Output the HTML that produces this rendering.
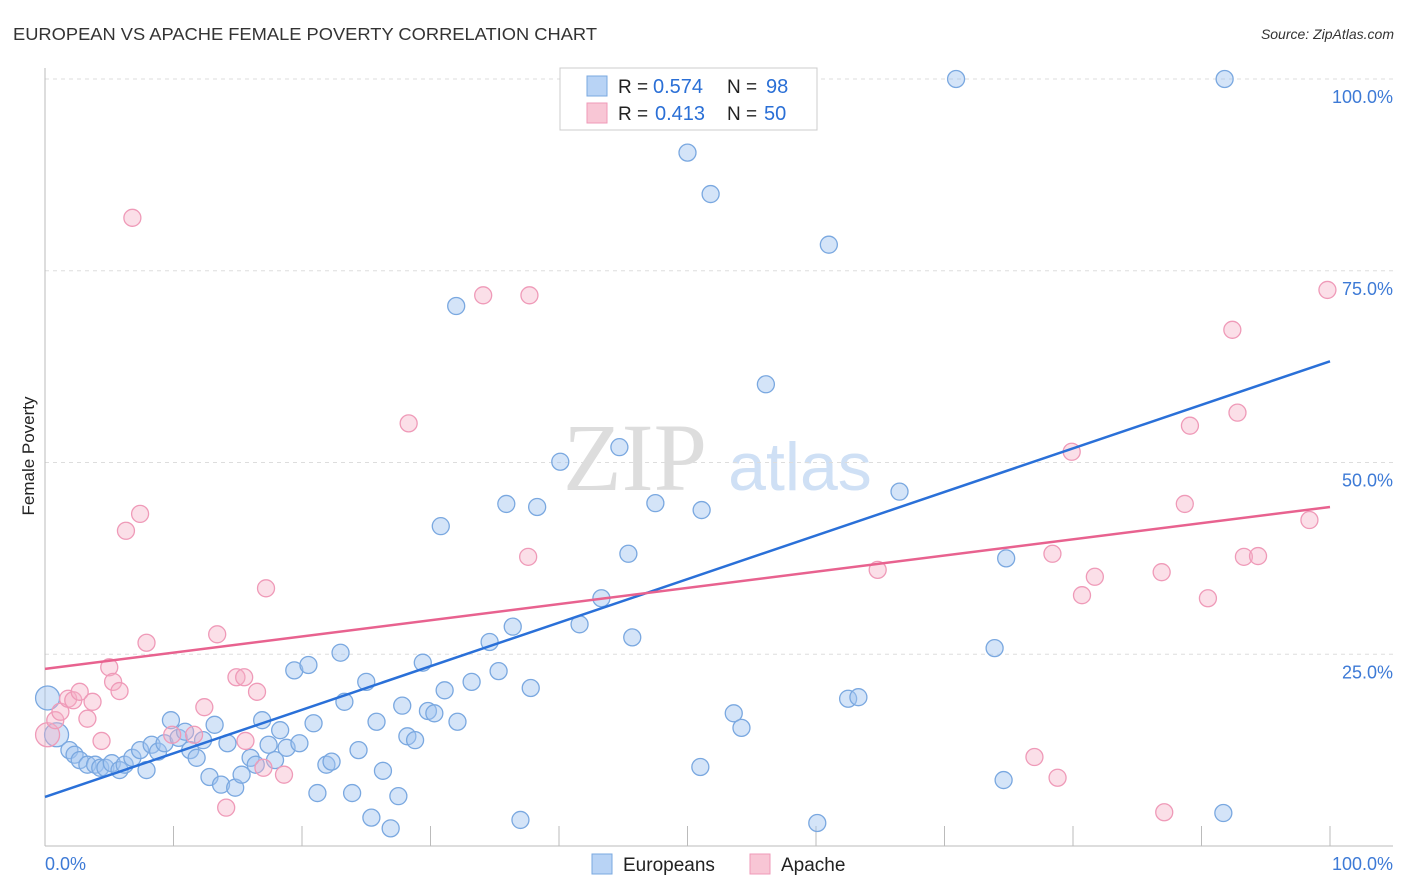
<!DOCTYPE html>
<html><head><meta charset="utf-8"><style>
body{margin:0;background:#fff;font-family:"Liberation Sans",sans-serif;}
svg{display:block}
</style></head><body>
<svg id="chart" width="1406" height="892">
<text x="13" y="40" font-size="17.5" fill="#333" textLength="584" lengthAdjust="spacingAndGlyphs">EUROPEAN VS APACHE FEMALE POVERTY CORRELATION CHART</text>
<text x="1394" y="39" font-size="14" fill="#333" font-style="italic" text-anchor="end">Source: ZipAtlas.com</text>
<text x="34" y="456" font-size="17" fill="#222" text-anchor="middle" transform="rotate(-90 34 456)">Female Poverty</text>
<g><text x="635" y="490" font-size="96" fill="#ddd" font-family="Liberation Serif" text-anchor="middle">ZIP</text><text x="800" y="490" font-size="68" fill="#cfe0f5" text-anchor="middle">atlas</text></g>
<g id="grid"></g><g id="ticks"></g><g id="pts"></g><g id="lines"></g>
<g>
<rect x="560" y="68" width="257" height="62" fill="#fff" stroke="#ccc"/>
<rect x="587" y="76" width="20" height="20" fill="#b8d3f5" stroke="#7aa8e0"/>
<rect x="587" y="103" width="20" height="20" fill="#f8c6d5" stroke="#ef9ab8"/>
<text x="618" y="93" font-size="19" fill="#222">R =</text><text x="653" y="93" font-size="20" fill="#2a6fd6">0.574</text>
<text x="727" y="93" font-size="19" fill="#222">N =</text><text x="766" y="93" font-size="20" fill="#2a6fd6">98</text>
<text x="618" y="120" font-size="19" fill="#222">R =</text><text x="655" y="120" font-size="20" fill="#2a6fd6">0.413</text>
<text x="727" y="120" font-size="19" fill="#222">N =</text><text x="764" y="120" font-size="20" fill="#2a6fd6">50</text>
</g>
<g>
<rect x="592" y="854" width="20" height="20" fill="#b8d3f5" stroke="#7aa8e0"/>
<text x="623" y="871" font-size="19" fill="#222">Europeans</text>
<rect x="750" y="854" width="20" height="20" fill="#f8c6d5" stroke="#ef9ab8"/>
<text x="781" y="871" font-size="19" fill="#222">Apache</text>
</g>
</svg>
<script>
const xTickLabels=["0.0%","100.0%"];
const yTicks=[25,50,75,100];
const yTickLabels=["25.0%","50.0%","75.0%","100.0%"];
const euroX=[0.2,0.9,1.9,2.3,2.7,3.3,3.9,4.3,4.7,5.2,5.8,6.2,6.8,7.4,7.9,8.3,8.8,9.3,9.8,10.4,10.9,11.3,11.8,12.3,12.8,13.2,13.7,14.2,14.8,15.3,16.0,16.4,16.9,17.4,17.9,18.3,18.8,19.4,19.8,20.5,20.9,21.2,21.9,22.3,23.0,23.3,23.9,24.4,25.0,25.4,25.8,26.3,26.9,27.5,27.8,28.2,28.8,29.4,29.8,30.3,30.8,31.1,32.0,32.1,33.2,34.6,35.3,35.9,36.4,37.0,37.8,38.3,40.1,41.6,43.3,44.7,45.4,45.7,47.5,50.0,51.0,51.1,51.8,53.6,54.2,56.1,60.1,61.0,62.5,63.3,66.5,70.9,73.9,74.6,74.8,91.7,91.8];
const euroY=[19.3,14.5,12.5,11.9,11.2,10.6,10.6,10.2,10.2,10.8,9.9,10.6,11.5,12.5,9.9,13.2,12.3,13.4,16.4,14.1,14.9,12.5,11.5,13.8,9.0,15.8,8.0,13.4,7.6,9.3,11.5,10.6,16.4,13.2,11.2,15.1,12.8,22.9,13.4,23.6,16.0,6.9,10.6,11.0,25.2,18.8,6.9,12.5,21.4,3.7,16.2,9.8,2.3,6.5,18.3,14.3,13.8,23.9,17.6,17.3,41.7,20.3,70.4,16.2,21.4,26.6,22.8,44.6,28.6,3.4,20.6,44.2,50.1,28.9,32.3,52.0,38.1,27.2,44.7,90.4,10.3,43.8,85.0,17.3,15.4,60.2,3.0,78.4,19.2,19.4,46.2,100,25.8,8.6,37.5,4.3,100];
const apX=[0.2,0.8,1.2,1.8,2.2,2.7,3.3,3.7,4.4,5.0,5.3,5.8,6.3,6.8,7.4,7.9,9.9,11.6,12.4,13.4,14.1,14.9,15.5,15.6,16.5,17.0,17.2,18.6,28.3,34.1,37.6,37.7,64.8,77.0,78.4,78.8,79.9,80.7,81.7,86.9,87.1,88.7,89.1,90.5,92.4,92.8,93.3,94.4,98.4,99.8];
const apY=[14.5,16.4,17.5,19.2,19.0,20.1,16.6,18.8,13.7,23.3,21.4,20.2,41.1,81.9,43.3,26.5,14.5,14.5,18.1,27.6,5.0,22.0,22.0,13.7,20.1,10.2,33.6,9.3,55.1,71.8,37.7,71.8,36.0,11.6,38.1,8.9,51.4,32.7,35.1,35.7,4.4,44.6,54.8,32.3,67.3,56.5,37.7,37.8,42.5,72.5];
const euroLine=[6.4,63.2];
const apLine=[23.1,44.2];
const NS="http://www.w3.org/2000/svg";
const sx=v=>45+v*12.85, sy=v=>846-v*7.67;
function mk(tag,at,par){const e=document.createElementNS(NS,tag);for(const k in at)e.setAttribute(k,at[k]);document.getElementById(par).appendChild(e);return e;}
yTicks.forEach((t,i)=>{
 const g=mk('line',{x1:45,x2:1393,y1:sy(t),y2:sy(t),stroke:'#ddd','stroke-dasharray':'4 4'},'grid');
 
 
 const l=mk('text',{x:1393,y:sy(t)+24,'font-size':18,fill:'#3d7ad6','text-anchor':'end'},'grid');
 l.textContent=yTickLabels[i];
 
 
});
const ax=mk('line',{x1:45,x2:1393,y1:846,y2:846,stroke:'#bbb'},'ticks');


const ay=mk('line',{x1:45,x2:45,y1:68,y2:846,stroke:'#bbb'},'ticks');


for(let i=1;i<=10;i++){const t=mk('line',{x1:sx(i*10),x2:sx(i*10),y1:826,y2:846,stroke:'#bbb'},'ticks');
 
 }
const xl0=mk('text',{x:45,y:870,'font-size':18,fill:'#3d7ad6'},'ticks');xl0.textContent=xTickLabels[0];


const xl1=mk('text',{x:1393,y:870,'font-size':18,fill:'#3d7ad6','text-anchor':'end'},'ticks');xl1.textContent=xTickLabels[1];


function pts(X,Y,fill,stroke,name,nBig){X.forEach((x,i)=>{const r=(i<nBig)?12:8.5;
 const c=mk('circle',{cx:sx(x),cy:sy(Y[i]),r:r,fill:fill,stroke:stroke,'stroke-width':1.3},'pts');
 
 });}
pts(euroX,euroY,'rgba(160,196,240,0.45)','#7aa8e0','european-point',2);
pts(apX,apY,'rgba(245,175,198,0.4)','#ef9ab8','apache-point',1);
const bl=mk('line',{x1:sx(0),y1:sy(euroLine[0]),x2:sx(100),y2:sy(euroLine[1]),stroke:'#2a70d8','stroke-width':2.5},'lines');


const pl=mk('line',{x1:sx(0),y1:sy(apLine[0]),x2:sx(100),y2:sy(apLine[1]),stroke:'#e8628f','stroke-width':2.5},'lines');


</script>
</body></html>
